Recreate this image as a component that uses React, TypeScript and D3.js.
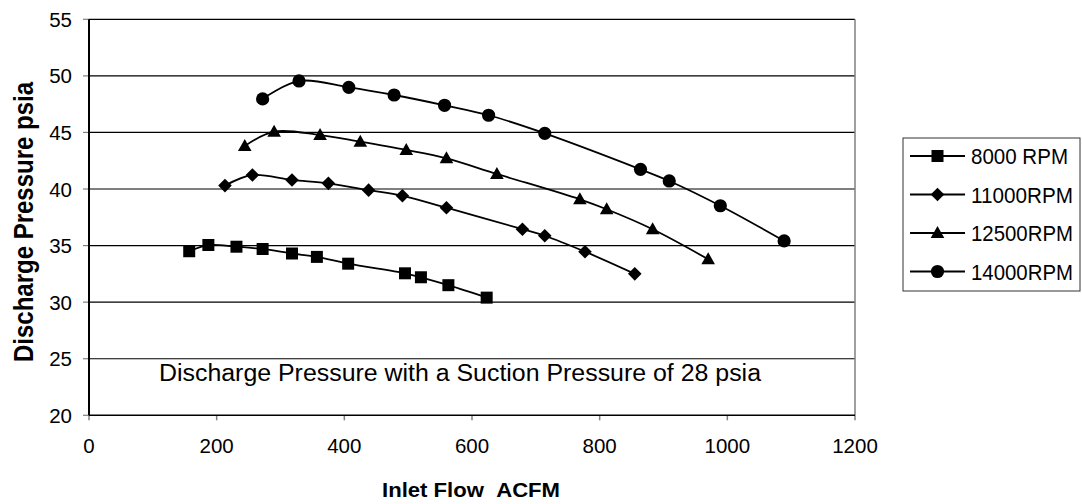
import React from "react";
import * as d3 from "d3";

const xTicks = [0, 200, 400, 600, 800, 1000, 1200];
const yTicks = [20, 25, 30, 35, 40, 45, 50, 55];

const seriesNames = ["8000 RPM", "11000RPM", "12500RPM", "14000RPM"];
const markers = ["square", "diamond", "triangle", "circle"];

const rpm8000X = [157, 187, 231, 272, 318, 357, 406, 495, 520, 563, 623];
const rpm8000Y = [34.5, 35.05, 34.9, 34.7, 34.3, 34.0, 33.4, 32.55, 32.2, 31.5, 30.4];
const rpm11000X = [213, 256, 318, 375, 438, 491, 560, 679, 714, 777, 855];
const rpm11000Y = [40.3, 41.24, 40.8, 40.5, 39.9, 39.4, 38.35, 36.45, 35.87, 34.46, 32.5];
const rpm12500X = [244, 290, 362, 425, 497, 560, 639, 769, 811, 883, 970];
const rpm12500Y = [43.8, 45.07, 44.77, 44.18, 43.45, 42.71, 41.33, 39.09, 38.21, 36.44, 33.79];
const rpm14000X = [272, 329, 407, 478, 557, 626, 714, 864, 909, 989, 1089];
const rpm14000Y = [47.96, 49.55, 48.99, 48.31, 47.4, 46.52, 44.92, 41.74, 40.71, 38.52, 35.41];

const seriesX = [rpm8000X, rpm11000X, rpm12500X, rpm14000X];
const seriesY = [rpm8000Y, rpm11000Y, rpm12500Y, rpm14000Y];

const FONT = "'Liberation Sans', Arial, Helvetica, sans-serif";

function markerPath(kind: string, cx: number, cy: number): string {
  if (kind === "square") {
    const h = 6;
    return `M${cx - h},${cy - h}H${cx + h}V${cy + h}H${cx - h}Z`;
  }
  if (kind === "diamond") {
    const h = 6.8;
    return `M${cx},${cy - h}L${cx + h},${cy}L${cx},${cy + h}L${cx - h},${cy}Z`;
  }
  if (kind === "triangle") {
    const w = 6.8;
    return `M${cx},${cy - 7}L${cx + w},${cy + 5}L${cx - w},${cy + 5}Z`;
  }
  const r = 6.6;
  return `M${cx + r},${cy}A${r},${r} 0 1,1 ${cx - r},${cy}A${r},${r} 0 1,1 ${cx + r},${cy}Z`;
}

export default function App() {
  const W = 1082;
  const H = 504;
  const left = 89;
  const right = 855;
  const top = 19.3;
  const bottom = 415.3;
  const x = d3.scaleLinear().domain([0, 1200]).range([left, right]);
  const y = d3.scaleLinear().domain([20, 55]).range([bottom, top]);

  const line = d3
    .line<[number, number]>()
    .x((d) => x(d[0]))
    .y((d) => y(d[1]))
    .curve(d3.curveCatmullRom.alpha(0.5));

  const legendX = 903;
  const legendY = 138;
  const legendW = 177;
  const legendH = 153;
  const legendRows = [156, 194.5, 233, 271.5];
  const legendWidths = [97, 102, 102, 102];

  return (
    <svg
      width={W}
      height={H}
      style={{ position: "absolute", left: 0, top: 0, background: "#fff" }}
      fontFamily={FONT}
    >
      <rect x={0} y={0} width={W} height={H} fill="#fff" />
      {yTicks.slice(1).map((t) => (
        <line key={"g" + t} x1={left} x2={right} y1={y(t)} y2={y(t)} stroke="#000" strokeWidth={1.2} />
      ))}
      <line x1={right} x2={right} y1={top} y2={bottom} stroke="#808080" strokeWidth={1.5} />
      {yTicks.map((t) => (
        <line key={"yt" + t} x1={left - 6} x2={left} y1={y(t)} y2={y(t)} stroke="#808080" strokeWidth={1.2} />
      ))}
      {xTicks.map((t) => (
        <line key={"xt" + t} x1={x(t)} x2={x(t)} y1={bottom} y2={bottom + 5} stroke="#808080" strokeWidth={1.5} />
      ))}
      <line x1={left} x2={right} y1={bottom} y2={bottom} stroke="#000" strokeWidth={1.5} />
      <line x1={left} x2={left} y1={top} y2={bottom} stroke="#000" strokeWidth={2} />
      {yTicks.map((t) => (
        <text key={"yl" + t} x={72} y={y(t) + 7.5} fontSize={20.5} textAnchor="end" fill="#000">
          {t}
        </text>
      ))}
      {xTicks.map((t) => (
        <text key={"xl" + t} x={x(t)} y={453} fontSize={20.5} textAnchor="middle" fill="#000">
          {t}
        </text>
      ))}
      {seriesX.map((xs, i) => {
        const pts: [number, number][] = xs.map((v, j) => [v, seriesY[i][j]]);
        return (
          <g key={"s" + i}>
            <path d={line(pts) || ""} fill="none" stroke="#000" strokeWidth={1.8} />
            {pts.map((p, j) => (
              <path key={j} d={markerPath(markers[i], x(p[0]), y(p[1]))} fill="#000" />
            ))}
          </g>
        );
      })}
      <text x={159} y={381} fontSize={23} textLength={602} lengthAdjust="spacingAndGlyphs" fill="#000">
        Discharge Pressure with a Suction Pressure of 28 psia
      </text>
      <text
        x={382}
        y={497}
        fontSize={21}
        fontWeight="bold"
        textLength={178}
        lengthAdjust="spacingAndGlyphs"
        fill="#000"
      >
        {"Inlet Flow\u00a0\u00a0ACFM"}
      </text>
      <text
        transform={`translate(33,${(82 + 362) / 2}) scale(1.15,1) rotate(-90)`}
        x={0}
        y={0}
        fontSize={24}
        fontWeight="bold"
        textAnchor="middle"
        textLength={280}
        lengthAdjust="spacingAndGlyphs"
        fill="#000"
      >
        Discharge Pressure psia
      </text>
      <rect x={legendX} y={legendY} width={legendW} height={legendH} fill="#fff" stroke="#333" strokeWidth={1} />
      {seriesNames.map((name, i) => (
        <g key={"l" + i}>
          <line x1={910} x2={965} y1={legendRows[i]} y2={legendRows[i]} stroke="#000" strokeWidth={1.8} />
          <path d={markerPath(markers[i], 937.5, legendRows[i])} fill="#000" />
          <text
            x={971}
            y={legendRows[i] + 8}
            fontSize={22}
            textLength={legendWidths[i]}
            lengthAdjust="spacingAndGlyphs"
            fill="#000"
          >
            {name}
          </text>
        </g>
      ))}
    </svg>
  );
}
